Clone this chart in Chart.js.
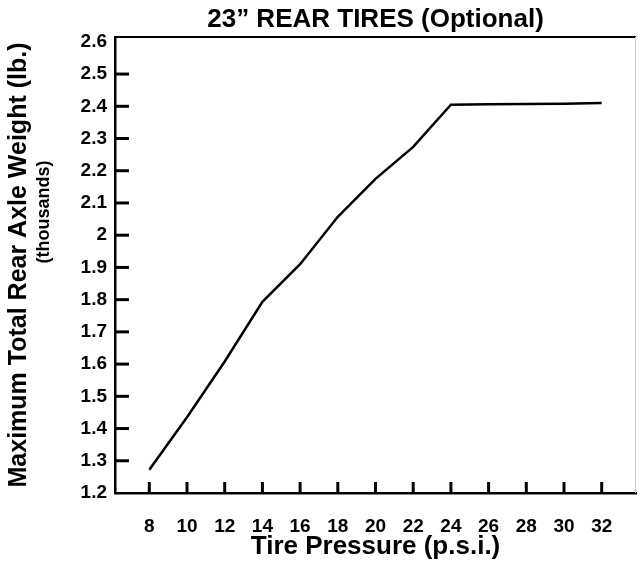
<!DOCTYPE html>
<html>
<head>
<meta charset="utf-8">
<title>23" Rear Tires</title>
<script src="https://cdn.jsdelivr.net/npm/chart.js@4.4.1/dist/chart.umd.min.js"></script>
<style>
  body { margin: 0; background: #fff; }
  #wrap { width: 638px; height: 563px; }
</style>
</head>
<body>
<div id="wrap"><canvas id="myChart" width="638" height="563"></canvas></div>
<script>
// du lieu doc tu hinh
var pressures = [8, 10, 12, 14, 16, 18, 20, 22, 24, 26, 28, 30, 32];
var weights = [1.272, 1.435, 1.608, 1.793, 1.91, 2.057, 2.175, 2.274, 2.405, 2.406, 2.407, 2.408, 2.41];
var xTicks = [8, 10, 12, 14, 16, 18, 20, 22, 24, 26, 28, 30, 32];
var yTicks = [1.2, 1.3, 1.4, 1.5, 1.6, 1.7, 1.8, 1.9, 2, 2.1, 2.2, 2.3, 2.4, 2.5, 2.6];

var fontFamily = '"Liberation Sans", Arial, Helvetica, sans-serif';

var points = pressures.map(function (p, i) {
  return { x: p, y: weights[i] };
});

// ve vach chia ben trong, vien tren va dong chu (thousands)
var insideTicks = {
  id: 'insideTicks',
  afterDraw: function (chart) {
    var ctx = chart.ctx;
    var area = chart.chartArea;
    var x = chart.scales.x;
    var y = chart.scales.y;
    ctx.save();
    ctx.strokeStyle = '#000';
    ctx.lineWidth = 3;
    yTicks.forEach(function (v) {
      if (v === yTicks[0] || v === yTicks[yTicks.length - 1]) return;
      var py = y.getPixelForValue(v);
      ctx.beginPath();
      ctx.moveTo(area.left, py);
      ctx.lineTo(area.left + 14, py);
      ctx.stroke();
    });
    xTicks.forEach(function (v) {
      var px = x.getPixelForValue(v);
      ctx.beginPath();
      ctx.moveTo(px, area.bottom);
      ctx.lineTo(px, area.bottom - 11);
      ctx.stroke();
    });
    // vien tren
    ctx.lineWidth = 2;
    ctx.beginPath();
    ctx.moveTo(area.left, area.top);
    ctx.lineTo(area.right, area.top);
    ctx.stroke();
    // vien phai (rat mo)
    ctx.strokeStyle = '#ccc';
    ctx.lineWidth = 1;
    ctx.beginPath();
    ctx.moveTo(area.right - 0.5, area.top);
    ctx.lineTo(area.right - 0.5, area.bottom);
    ctx.stroke();

    ctx.fillStyle = '#000';
    ctx.font = 'bold 18px ' + fontFamily;
    ctx.textAlign = 'center';
    ctx.textBaseline = 'middle';
    ctx.translate(44, 212);
    ctx.rotate(-Math.PI / 2);
    ctx.fillText('(thousands)', 0, 0);
    ctx.restore();
  }
};

var ctx = document.getElementById('myChart').getContext('2d');

var myChart = new Chart(ctx, {
  type: 'line',
  data: {
    datasets: [{
      data: points,
      borderColor: '#000',
      borderWidth: 2.5,
      pointRadius: 0,
      tension: 0,
      fill: false
    }]
  },
  options: {
    responsive: false,
    animation: false,
    layout: { padding: { left: 0, right: 2, top: 0, bottom: 0 } },
    plugins: {
      legend: { display: false },
      tooltip: { enabled: false }
    },
    scales: {
      // truc phu phia tren, chi de dat tieu de giua vung ve
      top: {
        type: 'linear',
        position: 'top',
        min: 6.18,
        max: 33.82,
        afterFit: function (scale) { scale.height = 37; },
        grid: { display: false, drawTicks: false },
        border: { display: false },
        ticks: { display: false },
        title: {
          display: true,
          text: '23\u201D REAR TIRES (Optional)',
          color: '#000',
          font: { family: fontFamily, size: 26, weight: 'bold' },
          padding: { top: 4, bottom: 0 }
        }
      },
      x: {
        type: 'linear',
        position: 'bottom',
        min: 6.18,
        max: 33.82,
        afterBuildTicks: function (scale) {
          scale.ticks = xTicks.map(function (v) { return { value: v }; });
        },
        afterFit: function (scale) { scale.height = 70; },
        grid: { display: false, drawTicks: false },
        border: { display: true, color: '#000', width: 2.5 },
        ticks: {
          color: '#000',
          padding: 22,
          maxRotation: 0,
          autoSkip: false,
          font: { family: fontFamily, size: 19, weight: 'bold' }
        },
        title: {
          display: true,
          text: 'Tire Pressure (p.s.i.)',
          color: '#000',
          font: { family: fontFamily, size: 26, weight: 'bold' },
          padding: { top: 0, bottom: 1 }
        }
      },
      y: {
        type: 'linear',
        min: 1.2,
        max: 2.615,
        afterBuildTicks: function (scale) {
          scale.ticks = yTicks.map(function (v) { return { value: v }; });
        },
        afterFit: function (scale) { scale.width = 115; },
        grid: { display: false, drawTicks: false },
        border: { display: true, color: '#000', width: 2.5 },
        ticks: {
          color: '#000',
          padding: 8,
          autoSkip: false,
          font: { family: fontFamily, size: 19, weight: 'bold' },
          callback: function (v) { return String(v); }
        },
        title: {
          display: true,
          text: 'Maximum Total Rear Axle Weight (lb.)',
          color: '#000',
          font: { family: fontFamily, size: 25, weight: 'bold' },
          padding: { top: 4, bottom: 0 }
        }
      }
    }
  },
  plugins: [insideTicks]
});
</script>
</body>
</html>
